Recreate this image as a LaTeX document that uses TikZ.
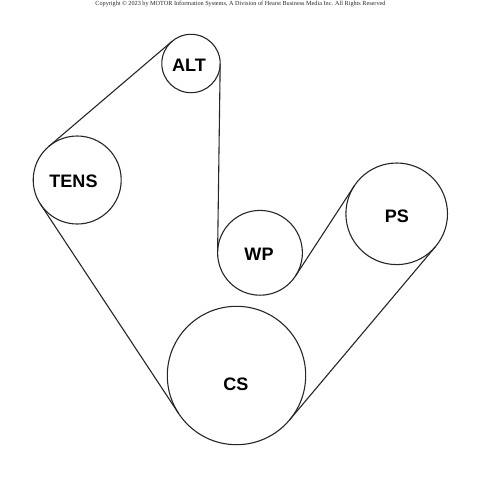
\documentclass[tikz,border=0pt]{standalone}
\usepackage{fontspec}
\setmainfont{Liberation Sans}
\newfontfamily\copyfont{Liberation Serif}
\tikzset{
  pulley/.style={circle,draw=black!85,line width=0.65pt,inner sep=0pt,outer sep=0pt,minimum size=#1*2*0.0208333cm},
  belt/.style={draw=black!85,line width=0.65pt},
  tag/.style={font=\fontsize{10.7}{12}\selectfont\bfseries,inner sep=0pt},
  px/.style={x=0.0208333cm,y=-0.0208333cm}
}
\begin{document}
\begin{tikzpicture}[px]
\useasboundingbox (0,0) rectangle (480,480);
\node[font=\copyfont\fontsize{3.68}{5}\selectfont,inner sep=0pt,text=black!85] (copy) at (240.5,3.5) {Copyright © 2023 by MOTOR Information Systems, A Division of Hearst Business Media Inc. All Rights Reserved};
\node[pulley=29.2] (alt) at (191,63.5) {};
\node[pulley=44] (tens) at (77.2,180) {};
\node[pulley=42.4] (wp) at (260,252.8) {};
\node[pulley=50.8] (ps) at (396.7,213.8) {};
\node[pulley=69.2] (cs) at (236.5,375.5) {};
\node[tag] (altl) at (189,65) {ALT};
\node[tag] (tensl) at (73.5,181) {TENS};
\node[tag] (wpl) at (259,254.5) {WP};
\node[tag] (psl) at (397,216.5) {PS};
\node[tag] (csl) at (236,384.5) {CS};
\draw[belt] (tens.130.5) -- (alt.130.5);
\draw[belt] (alt.-0.8) -- (wp.179.2);
\draw[belt] (wp.-33.2) -- (ps.146.8);
\draw[belt] (ps.-40.1) -- (cs.-40.1);
\draw[belt] (cs.213.5) -- (tens.213.5);
\end{tikzpicture}
\end{document}
